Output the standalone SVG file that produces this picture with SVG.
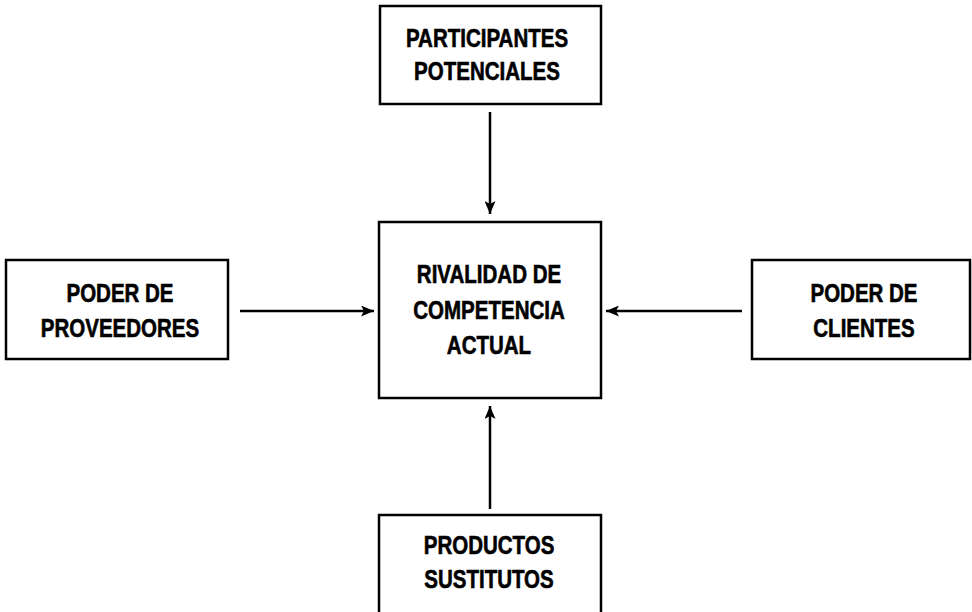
<svg xmlns="http://www.w3.org/2000/svg" width="972" height="612" viewBox="0 0 972 612">
<style>
.box{fill:#fff;stroke:#000;stroke-width:2.5}
.t{font-family:"Liberation Sans",Arial,sans-serif;font-weight:bold;font-size:25px;fill:#000;stroke:#000;stroke-width:0.6;text-anchor:middle}
.c{stroke:#000;stroke-width:2.5;fill:none}
</style>
<defs>
<marker id="ah" viewBox="0 0 13 11" refX="13" refY="5.5" markerWidth="13" markerHeight="11" markerUnits="userSpaceOnUse" orient="auto">
<path d="M0,0 L13,5.5 L0,11 L3,5.5 Z" fill="#000"/>
</marker>
</defs>
<rect width="972" height="612" fill="#fff"/>
<g id="connectors">
<line class="c" x1="490" y1="112" x2="490" y2="214" marker-end="url(#ah)"/>
<line class="c" x1="240" y1="311" x2="374" y2="311" marker-end="url(#ah)"/>
<line class="c" x1="742" y1="311" x2="606" y2="311" marker-end="url(#ah)"/>
<line class="c" x1="490" y1="509" x2="490" y2="406" marker-end="url(#ah)"/>
</g>
<g id="participantes">
<rect class="box" x="380" y="6" width="221" height="98"/>
<text class="t" transform="translate(487,47) scale(0.82,1)">PARTICIPANTES</text>
<text class="t" transform="translate(487,80) scale(0.82,1)">POTENCIALES</text>
</g>
<g id="rivalidad">
<rect class="box" x="379" y="222" width="222" height="176"/>
<text class="t" transform="translate(489,283) scale(0.82,1)">RIVALIDAD DE</text>
<text class="t" transform="translate(489,319) scale(0.82,1)">COMPETENCIA</text>
<text class="t" transform="translate(489,354) scale(0.82,1)">ACTUAL</text>
</g>
<g id="proveedores">
<rect class="box" x="6" y="260" width="222" height="99"/>
<text class="t" transform="translate(120,302) scale(0.82,1)">PODER DE</text>
<text class="t" transform="translate(120,337) scale(0.82,1)">PROVEEDORES</text>
</g>
<g id="clientes">
<rect class="box" x="752" y="260" width="218" height="99"/>
<text class="t" transform="translate(864,302) scale(0.82,1)">PODER DE</text>
<text class="t" transform="translate(864,337) scale(0.82,1)">CLIENTES</text>
</g>
<g id="sustitutos">
<rect class="box" x="379" y="515" width="222" height="110"/>
<text class="t" transform="translate(489,554) scale(0.82,1)">PRODUCTOS</text>
<text class="t" transform="translate(489,588) scale(0.82,1)">SUSTITUTOS</text>
</g>
</svg>
